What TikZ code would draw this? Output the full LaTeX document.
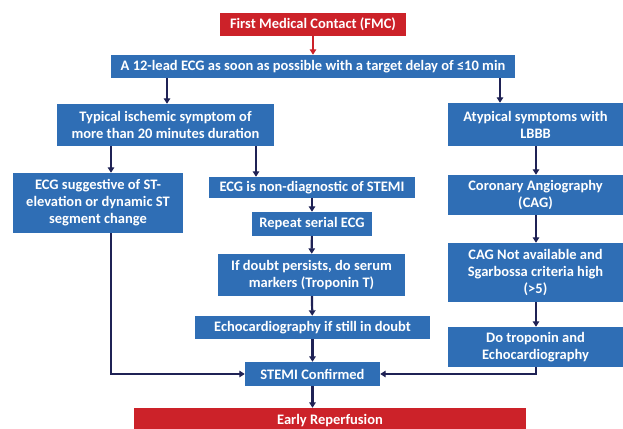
\documentclass[tikz,border=0pt]{standalone}
\usepackage{fontspec}
\setmainfont{Carlito}
\usetikzlibrary{arrows.meta,calc}
\definecolor{boxblue}{HTML}{2F6EB5}
\definecolor{boxred}{HTML}{CC2229}
\definecolor{navy}{HTML}{1F2255}
\begin{document}
\begin{tikzpicture}[x=1pt,y=-1pt,
  box/.style={fill=boxblue,text=white,font=\fontsize{14.5}{17}\selectfont\bfseries,align=center,inner sep=0pt,anchor=center},
  rbox/.style={box,fill=boxred},
  arr/.style={draw=navy,line width=2.2pt,-{Triangle[length=5.5pt,width=6.5pt]}},
  rarr/.style={arr,draw=boxred,color=boxred}]
\useasboundingbox (0,0) rectangle (623,428);
\clip (0,0) rectangle (623,428);
\fill[white] (0,0) rectangle (623,428);
\node[rbox,minimum width=186pt,minimum height=23pt] (fmc) at (313,24.5) {First Medical Contact (FMC)};
\node[box,minimum width=404pt,minimum height=23pt] (ecg) at (313,66.5) {A 12-lead ECG as soon as possible with a target delay of ≤10 min};
\node[box,minimum width=217pt,minimum height=42pt] (typ) at (165.5,125) {Typical ischemic symptom of\\more than 20 minutes duration};
\node[box,minimum width=175pt,minimum height=43pt] (aty) at (535.5,124.5) {Atypical symptoms with\\LBBB};
\node[box,minimum width=170pt,minimum height=60pt] (sug) at (98,203) {ECG suggestive of ST-\\elevation or dynamic ST\\segment change};
\node[box,minimum width=206pt,minimum height=21pt] (nond) at (312,187.5) {ECG is non-diagnostic of STEMI};
\node[box,minimum width=120pt,minimum height=24pt] (rep) at (312,224) {Repeat serial ECG};
\node[box,minimum width=187pt,minimum height=42pt] (doubt) at (311.5,275) {If doubt persists, do serum\\markers (Troponin T)};
\node[box,minimum width=235pt,minimum height=23pt] (echo) at (312.5,327.5) {Echocardiography if still in doubt};
\node[box,minimum width=135pt,minimum height=24pt] (stemi) at (312.5,374) {STEMI Confirmed};
\node[rbox,minimum width=392pt,minimum height=26pt] (early) at (330,421) {Early Reperfusion};
\node[box,minimum width=175pt,minimum height=40pt] (cag) at (535.5,195) {Coronary Angiography\\(CAG)};
\node[box,minimum width=175pt,minimum height=59pt] (cagna) at (535.5,272.5) {CAG Not available and\\Sgarbossa criteria high\\(>5)};
\node[box,minimum width=175pt,minimum height=40pt] (trop) at (535.5,347) {Do troponin and\\Echocardiography};
% connectors
\draw[rarr] (fmc.south) -- (ecg.north);
\coordinate (e1) at ($(ecg.south)+(-146,0)$);
\draw[arr] (e1) -- (e1 |- typ.north);
\coordinate (e2) at ($(ecg.south)+(187,0)$);
\draw[arr] (e2) -- (e2 |- aty.north);
\coordinate (t1) at ($(typ.south)+(-54.5,0)$);
\draw[arr] (t1) -- (t1 |- sug.north);
\coordinate (t2) at ($(typ.south)+(90.5,0)$);
\draw[arr] (t2) -- (t2 |- nond.north);
\draw[arr] (nond) -- (rep);
\draw[arr] (rep) -- (doubt);
\draw[arr] (doubt) -- (echo);
\draw[arr] (echo) -- (stemi);
\draw[arr] (stemi.south) -- (stemi.south |- early.north);
\coordinate (a1) at ($(aty.south)+(0.5,0)$);
\draw[arr] (a1) -- (a1 |- cag.north);
\draw[arr] (a1 |- cag.south) -- (a1 |- cagna.north);
\draw[arr] (a1 |- cagna.south) -- (a1 |- trop.north);
\coordinate (s1) at (t1 |- sug.south);
\draw[arr] (s1) |- (stemi.west);
\draw[arr] (a1 |- trop.south) |- (stemi.east);
\end{tikzpicture}
\end{document}
